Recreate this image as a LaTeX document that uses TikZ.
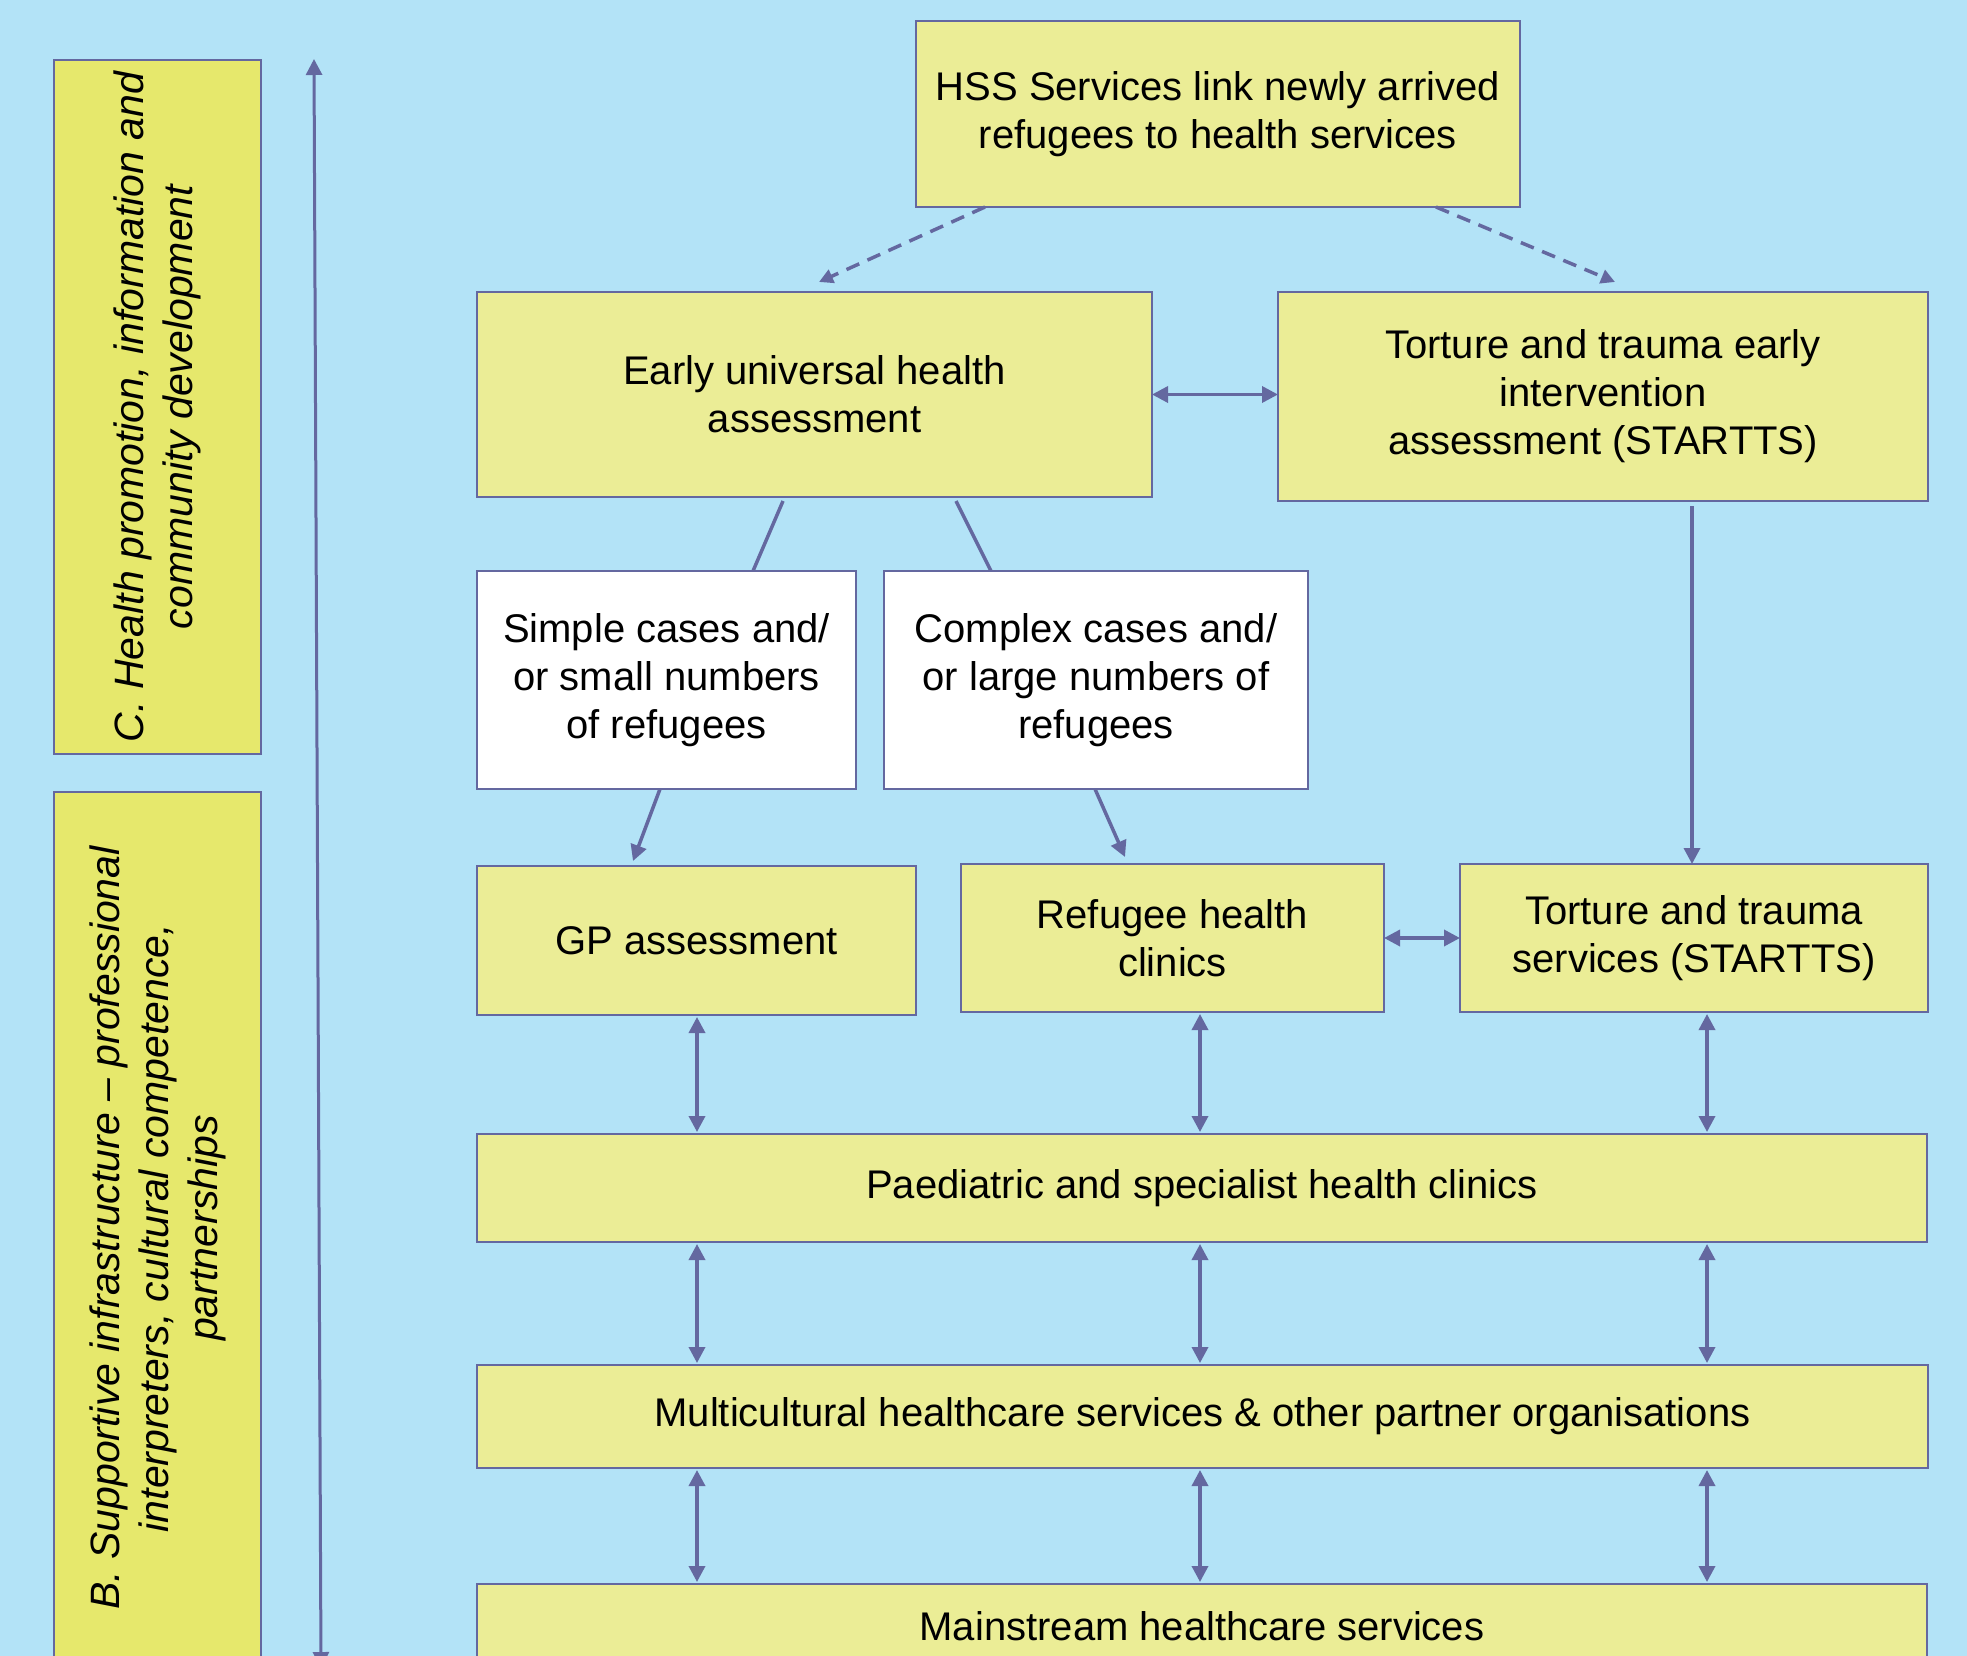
\documentclass[tikz,border=0pt]{standalone}
\usepackage{fontspec}
\setmainfont{Liberation Sans}
\usetikzlibrary{arrows.meta}
\definecolor{skyback}{HTML}{B3E3F7}
\definecolor{boxfill}{HTML}{EBED96}
\definecolor{barfill}{HTML}{E6E86C}
\definecolor{edge}{HTML}{6468A0}

\begin{document}
\begin{tikzpicture}[x=1pt, y=-1pt,
	box/.style={draw=edge, line width=2.5pt, fill=boxfill, inner sep=0pt, outer sep=0pt, align=center, font=\fontsize{40}{48}\selectfont},
	casebox/.style={box, fill=white},
	sidebar/.style={box, fill=barfill, font=\fontsize{41}{49}\selectfont\itshape},
	plain/.style={draw=edge, line width=3.5pt},
	link/.style={plain, -{Triangle[length=16pt,width=16pt]}},
	dlink/.style={plain, {Triangle[length=16pt,width=16pt]}-{Triangle[length=16pt,width=16pt]}, shorten >=2pt, shorten <=2pt},
	dashlink/.style={plain, dash pattern=on 14pt off 9pt, -{Triangle[length=14pt,width=14pt]}}]
			\path[use as bounding box, fill=skyback] (0,0) rectangle (1967,1656);
			\clip (0,0) rectangle (1967,1656);
			% left bars
			\node[sidebar, rotate=90, minimum width=694pt, minimum height=207pt] (health) at (157.5,407) {C. Health promotion, information and\\community development};
			\node[sidebar, rotate=90, minimum width=872pt, minimum height=207pt] (support) at (157.5,1228) {B. Supportive infrastructure – professional\\interpreters, cultural competence,\\partnerships};
			\coordinate (scaletop) at (314,59);
			\coordinate (scalebot) at (321,1668);
			\draw[dlink, line width=3pt, shorten >=0pt, shorten <=0pt] (scaletop) -- (scalebot);
			% services
			\node[box, minimum width=604pt, minimum height=186pt] (hss) at (1218,114) {HSS Services link newly arrived\\refugees to health services};
			\node[box, minimum width=675pt, minimum height=205pt] (early) at (814.5,394.5) {Early universal health\\assessment};
			\node[box, minimum width=650pt, minimum height=209pt] (tte) at (1603,396.5) {Torture and trauma early\\intervention\\assessment (STARTTS)};
			\node[casebox, minimum width=379pt, minimum height=218pt] (simple) at (666.5,680) {Simple cases and/\\or small numbers\\of refugees};
			\node[casebox, minimum width=424pt, minimum height=218pt] (complex) at (1096,680) {Complex cases and/\\or large numbers of\\refugees};
			\node[box, minimum width=439pt, minimum height=149pt] (gp) at (696.5,940.5) {GP assessment};
			\node[box, minimum width=423pt, minimum height=148pt] (refugee) at (1172.5,938) {Refugee health\\clinics};
			\node[box, minimum width=468pt, minimum height=148pt] (startts) at (1694,938) {Torture and trauma\\services (STARTTS)};
			\node[box, minimum width=1450pt, minimum height=108pt] (paed) at (1202,1188) {Paediatric and specialist health clinics};
			\node[box, minimum width=1451pt, minimum height=103pt] (multi) at (1202.5,1416.5) {Multicultural healthcare services \& other partner organisations};
			\node[box, minimum width=1450pt, minimum height=84pt] (mainstream) at (1202,1626) {Mainstream healthcare services};
			% connectors
			\draw[dashlink] ([xshift=-233pt]hss.south) -- ([xshift=4.5pt, yshift=10pt]early.north);
			\draw[dashlink] ([xshift=218pt]hss.south) -- ([xshift=12pt, yshift=10pt]tte.north);
			\draw[dlink, shorten >=0pt, shorten <=0pt] (early.east) -- (early.east -| tte.west);
			\draw[plain] ([xshift=-31.5pt, yshift=-4pt]early.south) -- ([xshift=86.5pt]simple.north);
			\draw[plain] ([xshift=141.5pt, yshift=-4pt]early.south) -- ([xshift=-105pt]complex.north);
			\draw[link] ([xshift=-6.5pt]simple.south) -- ([xshift=-63.5pt, yshift=5pt]gp.north);
			\draw[link] ([xshift=-1pt]complex.south) -- ([xshift=-47.5pt, yshift=7pt]refugee.north);
			\draw[link] ([xshift=89pt, yshift=-5pt]tte.south) -- ([xshift=-2pt]startts.north);
			\draw[dlink, shorten >=0pt, shorten <=0pt] (refugee.east) -- (startts.west);
			\coordinate (colA) at (697,0);
			\coordinate (colB) at (1200,0);
			\coordinate (colC) at (1707,0);
			\draw[dlink] (gp.south -| colA) -- (paed.north -| colA);
			\draw[dlink] (refugee.south -| colB) -- (paed.north -| colB);
			\draw[dlink] (startts.south -| colC) -- (paed.north -| colC);
			\foreach \c in {colA,colB,colC}
				\draw[dlink] (paed.south -| \c) -- (multi.north -| \c);
			\foreach \c in {colA,colB,colC}
				\draw[dlink] (multi.south -| \c) -- (mainstream.north -| \c);
		\end{tikzpicture}
\end{document}
